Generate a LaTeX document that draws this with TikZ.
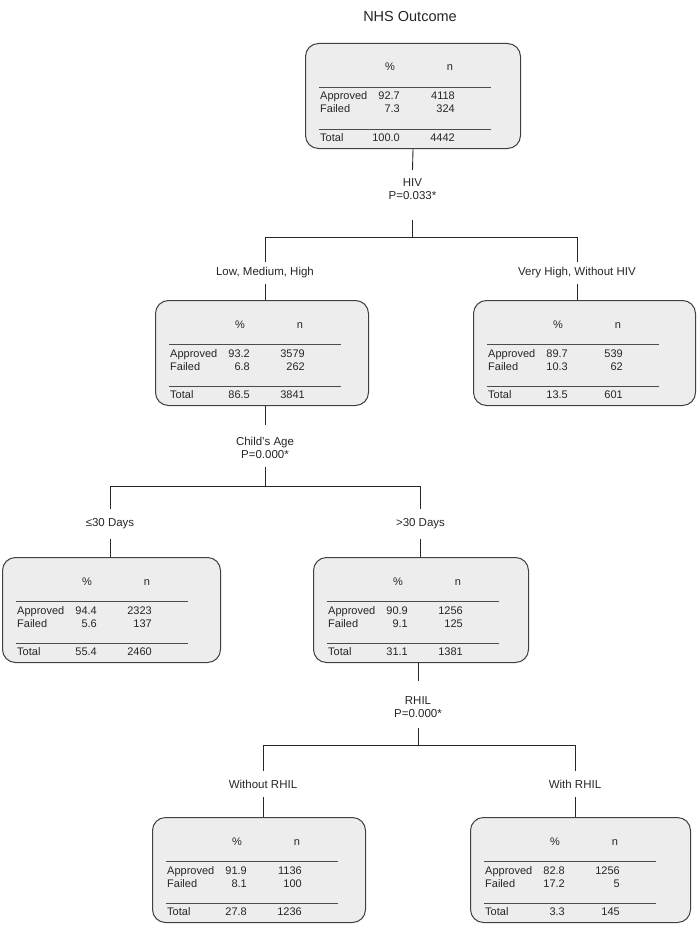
\documentclass[tikz,border=0pt]{standalone}
\usepackage{fontspec}
\setmainfont{Liberation Sans}
\newcommand\boxtext[7]{%
  \begin{scope}[shift={(#1.north west)}]
    \node[cell] (#1-hp) at (85,25) {\%};
    \node[cell] (#1-hn) at (145,25) {n};
    \draw[tabrule] (14,44) -- (186,44);
    \node[cell,anchor=west] (#1-ra) at (15,54) {Approved};
    \node[cell,anchor=east] (#1-pa) at (95,54) {#2};
    \node[cell,anchor=east] (#1-na) at (150,54) {#3};
    \node[cell,anchor=west] (#1-rf) at (15,67) {Failed};
    \node[cell,anchor=east] (#1-pf) at (95,67) {#4};
    \node[cell,anchor=east] (#1-nf) at (150,67) {#5};
    \draw[tabrule] (14,86) -- (186,86);
    \node[cell,anchor=west] (#1-rt) at (15,95) {Total};
    \node[cell,anchor=east] (#1-pt) at (95,95) {#6};
    \node[cell,anchor=east] (#1-nt) at (150,95) {#7};
  \end{scope}}
\begin{document}
\begin{tikzpicture}[x=1pt,y=-1pt,
  statbox/.style={draw=black!75, line width=1pt, fill=black!7, rounded corners=13pt,
    minimum height=105pt, anchor=north west, inner sep=0pt},
  cell/.style={font=\fontsize{11}{12}\selectfont, inner sep=0pt, text height=8pt, text depth=2pt, text=black!85},
  lbl/.style={font=\fontsize{11.5}{12.5}\selectfont, inner sep=0pt, align=center, text=black!85},
  conn/.style={line width=0.9pt, black!85},
  tabrule/.style={line width=0.9pt, black!70}]
\useasboundingbox (0,0) rectangle (698,939);

% title
\node[font=\fontsize{14.5}{16}\selectfont, inner sep=0pt, text=black!85] (title) at (410,17) {NHS Outcome};

% boxes
\node[statbox, minimum width=215pt] (top) at (305,43) {};
\node[statbox, minimum width=213pt] (b2l) at (155,300) {};
\node[statbox, minimum width=222pt] (b2r) at (473,300) {};
\node[statbox, minimum width=218pt] (b3l) at (2,557) {};
\node[statbox, minimum width=215pt] (b3r) at (313,557) {};
\node[statbox, minimum width=213pt] (b4l) at (152,817) {};
\node[statbox, minimum width=220pt] (b4r) at (470,817) {};

\boxtext{top}{92.7}{4118}{7.3}{324}{100.0}{4442}
\boxtext{b2l}{93.2}{3579}{6.8}{262}{86.5}{3841}
\boxtext{b2r}{89.7}{539}{10.3}{62}{13.5}{601}
\boxtext{b3l}{94.4}{2323}{5.6}{137}{55.4}{2460}
\boxtext{b3r}{90.9}{1256}{9.1}{125}{31.1}{1381}
\boxtext{b4l}{91.9}{1136}{8.1}{100}{27.8}{1236}
\boxtext{b4r}{82.8}{1256}{17.2}{5}{3.3}{145}

% ---- split 1: HIV
\node[lbl] (hiv) at (412.5,189) {HIV\\P=0.033*};
\coordinate (hivA) at (412.5,170);
\coordinate (hivB) at (412.5,220);
\coordinate (s1) at (412.5,237);
\coordinate (s1L) at (265,237);
\coordinate (s1R) at (577,237);
\draw[conn] (top.south) -- (hivA);
\draw[conn] (hivB) -- (s1);
\draw[conn] (s1L) -- (s1R);

\node[lbl, minimum height=22pt] (lmh) at (265,273) {Low, Medium, High};
\node[lbl, minimum height=22pt] (vhw) at (577,273) {Very High, Without HIV};
\draw[conn] (s1L) -- (lmh.north);
\draw[conn] (lmh.south) -- (lmh.south |- b2l.north);
\draw[conn] (s1R) -- (vhw.north);
\draw[conn] (vhw.south) -- (vhw.south |- b2r.north);

% ---- split 2: Child's age
\node[lbl] (age) at (265,448) {Child’s Age\\P=0.000*};
\coordinate (ageA) at (265,425);
\coordinate (ageB) at (265,467);
\coordinate (s2) at (265,486);
\coordinate (s2L) at (110,486);
\coordinate (s2R) at (420.5,486);
\draw[conn] (b2l.south -| ageA) -- (ageA);
\draw[conn] (ageB) -- (s2);
\draw[conn] (s2L) -- (s2R);

\node[lbl, minimum height=30pt] (le30) at (110,524) {≤30 Days};
\node[lbl, minimum height=30pt] (gt30) at (420.5,524) {>30 Days};
\draw[conn] (s2L) -- (le30.north);
\draw[conn] (le30.south) -- (le30.south |- b3l.north);
\draw[conn] (s2R) -- (gt30.north);
\draw[conn] (gt30.south) -- (gt30.south |- b3r.north);

% ---- split 3: RHIL
\node[lbl] (rhil) at (418,707) {RHIL\\P=0.000*};
\coordinate (rhA) at (418,681);
\coordinate (rhB) at (418,728);
\coordinate (s3) at (418,745);
\coordinate (s3L) at (263,745);
\coordinate (s3R) at (575,745);
\draw[conn] (b3r.south -| rhA) -- (rhA);
\draw[conn] (rhB) -- (s3);
\draw[conn] (s3L) -- (s3R);

\node[lbl, minimum height=26pt] (worh) at (263,784) {Without RHIL};
\node[lbl, minimum height=26pt] (wrh) at (575,784) {With RHIL};
\draw[conn] (s3L) -- (worh.north);
\draw[conn] (worh.south) -- (worh.south |- b4l.north);
\draw[conn] (s3R) -- (wrh.north);
\draw[conn] (wrh.south) -- (wrh.south |- b4r.north);
\end{tikzpicture}
\end{document}
